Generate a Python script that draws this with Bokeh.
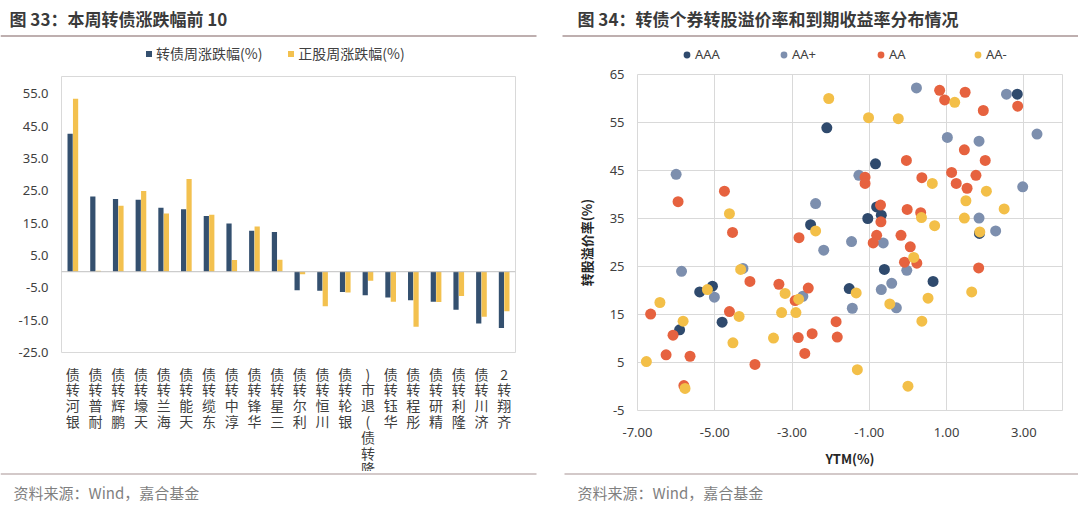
from bokeh.plotting import figure
from bokeh.models import (Range1d, FactorRange, FixedTicker, PrintfTickFormatter,
                          Legend, LegendItem, Span, ColumnDataSource)
from bokeh.transform import dodge
from bokeh.layouts import column, row
from bokeh.core.properties import value
from bokeh.embed import file_html
from bokeh.resources import INLINE

# ---------------- data ----------------
bond_names = ["银河转债", "耐普转债", "鹏辉转债", "天壕转债", "海兰转债", "天能转债", "东缆转债",
              "淳中转债", "华锋转债", "三星转债", "利尔转债", "川恒转债", "银轮转债", "康隆转债(退市)",
              "华钰转债", "彤程转债", "精研转债", "隆利转债", "济川转债", "齐翔转2"]
bond_chg = [42.7, 23.3, 22.5, 22.3, 19.8, 19.3, 17.2, 14.9, 12.7, 12.3,
            -5.7, -5.9, -6.3, -7.3, -8.0, -8.8, -9.3, -11.8, -16.0, -17.4]
stock_chg = [53.5, 0.3, 20.4, 25.0, 18.0, 28.7, 17.6, 3.6, 14.0, 3.7,
             -0.8, -10.7, -6.4, -2.8, -9.3, -17.0, -9.4, -7.5, -13.9, -12.2]
bar_series = ["转债周涨跌幅(%)", "正股周涨跌幅(%)"]
bar_ticks = [-25, -15, -5, 5, 15, 25, 35, 45, 55]

ratings = ["AAA", "AA+", "AA", "AA-"]
aaa_x = [-2.1, 2.83, -0.84, -0.81, -0.69, -1.04, 1.85, -2.52, -0.61, 0.65, -1.52, -5.39, -5.06, -4.81, -5.91]
aaa_y = [53.9, 60.9, 46.4, 37.4, 35.7, 35.0, 31.9, 33.7, 24.4, 21.9, 20.4, 19.7, 20.9, 13.4, 11.8]
aap_x = [0.22, 2.55, 3.34, 1.02, 1.84, -1.27, 2.97, -2.39, 1.84, 2.27, -1.46, -0.64, -2.18, -0.03,
         -0.42, -0.69, -0.30, -1.44, -6.0, -5.86, -5.01, -4.27, -2.72]
aap_y = [62.2, 60.9, 52.6, 51.9, 51.1, 44.0, 41.6, 38.1, 35.1, 32.4, 30.2, 29.9, 28.4, 24.2,
         21.5, 20.2, 16.4, 16.3, 44.2, 24.0, 18.6, 24.6, 18.8]
aa_x = [0.82, 0.95, 1.48, 2.84, 1.95, 1.46, 2.0, -0.04, -1.11, -1.11, 0.36, 1.13, 1.25, 1.53, 1.76,
        -0.71, -0.70, -0.02, 0.33, -0.81, -0.90, -0.18, 0.06, -0.09, 0.23, 1.83, -1.86, -1.83,
        -5.95, -4.75, -4.54, -2.82, -4.09, -3.34, -2.58, -2.92, -6.66, -4.62, -6.08, -6.26, -5.64,
        -2.84, -2.48, -2.67, -3.96, -5.8]
aa_y = [61.7, 59.7, 61.3, 58.4, 57.5, 49.3, 47.1, 47.1, 43.6, 42.3, 43.5, 44.6, 42.3, 41.3, 44.0,
        37.8, 34.3, 36.9, 36.2, 31.5, 29.9, 31.5, 29.1, 25.9, 25.7, 24.7, 13.5, 10.3,
        38.5, 40.7, 32.1, 31.0, 21.9, 21.3, 20.5, 17.9, 15.1, 15.6, 10.7, 6.6, 6.3,
        10.2, 11.0, 6.9, 4.6, 0.2]
aam_x = [-2.05, 1.21, -1.02, -0.25, 0.63, 2.03, 1.50, 2.49, 0.35, 0.69, 1.46, 1.86, -4.62, -2.39,
         0.15, -1.34, 1.65, 0.52, -0.47, 0.36, -1.31, 0.0, -5.19, -4.33, -3.18, -2.83, -6.42,
         -4.37, -3.27, -2.90, -5.82, -4.53, -3.48, -6.77, -5.77]
aam_y = [60.0, 59.2, 56.0, 55.8, 42.3, 40.7, 38.7, 37.0, 35.2, 33.5, 35.1, 32.2, 36.0, 32.4,
         26.9, 19.5, 19.7, 18.4, 17.2, 13.6, 3.5, 0.07, 20.2, 24.4, 19.4, 18.2, 17.5,
         14.6, 15.4, 15.4, 13.6, 9.1, 10.1, 5.2, -0.4]
sc_xticks = [-7, -5, -3, -1, 1, 3]
sc_yticks = [-5, 5, 15, 25, 35, 45, 55, 65]

titles = ["图 33：本周转债涨跌幅前 10", "图 34：转债个券转股溢价率和到期收益率分布情况"]
source_text = "资料来源：Wind，嘉合基金"

# ---------------- styles ----------------
CJK = "Noto Sans CJK SC"
NUM = "Noto Sans"
NAVY = "#34506f"
YEL = "#f3c14f"
C_AAA = "#2f4a6d"
C_AAP = "#7d8fae"
C_AA = "#e6623f"
C_AAM = "#f3bf48"
TXT = "#404040"
RULE = "#a89494"
NAN = float("nan")

W = 1078
X0 = 1  # page origin in picture pixels

def blank(width, height, y_top, y_bot):
    f = figure(width=width, height=height, x_range=Range1d(X0, X0 + width),
               y_range=Range1d(y_bot, y_top), x_axis_location=None, y_axis_location=None,
               toolbar_location=None, output_backend="svg", min_border=0,
               outline_line_color=None)
    f.grid.visible = False
    return f

# ---------------- header (titles + legends) ----------------
head = blank(W, 65, 1, 66)
head.text(x=[10, 578], y=[19, 19], text=titles, text_font=value(CJK), text_font_style="bold",
          text_font_size="17px", text_color="#3a3a3a", text_baseline="middle", text_align="left")
head.segment(x0=[X0, 563], x1=[537, X0 + W], y0=[36.5, 36.5], y1=[36.5, 36.5],
             line_color=RULE, line_width=1.5)

# legend swatches: invisible (NaN) keys that carry the series styles
lg_bars = [head.scatter([NAN], [NAN], marker="square", size=8, fill_color=c, line_color=None)
           for c in (NAVY, YEL)]
head.add_layout(Legend(items=[LegendItem(label=bar_series[i], renderers=[lg_bars[i]]) for i in range(2)],
                       orientation="horizontal", location=(141, 2), glyph_width=15, glyph_height=15,
                       label_text_font=CJK, label_text_font_size="14px", label_text_color=TXT,
                       label_standoff=0, spacing=21, border_line_color=None,
                       background_fill_alpha=0, padding=0, margin=0))
lg_dots = [head.scatter([NAN], [NAN], marker="circle", size=8, fill_color=c, line_color=None)
           for c in (C_AAA, C_AAP, C_AA, C_AAM)]
head.add_layout(Legend(items=[LegendItem(label=ratings[i], renderers=[lg_dots[i]]) for i in range(4)],
                       orientation="horizontal", location=(678, 2), glyph_width=17, glyph_height=17,
                       label_text_font=NUM, label_text_font_size="13px", label_text_color=TXT,
                       label_standoff=0, label_width=72, spacing=8, border_line_color=None,
                       background_fill_alpha=0, padding=0, margin=0))

# ---------------- left: bar chart ----------------
src = ColumnDataSource(dict(name=bond_names, bond=bond_chg, stock=stock_chg,
                            vlabel=["\n".join(reversed(list(n))) for n in bond_names]))
xr = FactorRange(*bond_names, range_padding=0)
left = figure(width=563, height=297, x_range=xr, y_range=Range1d(-25, 60.4),
              toolbar_location=None, output_backend="svg",
              min_border_left=61, min_border_right=48, min_border_top=11, min_border_bottom=10,
              outline_line_color="#d9d9d9")
left.grid.visible = False
left.xaxis.visible = False
left.vbar(x=dodge("name", -0.12, range=xr), top="bond", bottom=0, width=0.23,
          source=src, fill_color=NAVY, line_color=None)
left.vbar(x=dodge("name", 0.12, range=xr), top="stock", bottom=0, width=0.23,
          source=src, fill_color=YEL, line_color=None)
left.add_layout(Span(location=0, dimension="width", line_color="#bfbfbf", line_width=1))

left.yaxis.ticker = FixedTicker(ticks=bar_ticks)
left.yaxis.formatter = PrintfTickFormatter(format="%.1f")
left.yaxis.axis_line_color = None
left.yaxis.major_tick_line_color = None
left.yaxis.minor_tick_line_color = None
left.yaxis.major_label_text_font = NUM
left.yaxis.major_label_text_font_size = "13px"
left.yaxis.major_label_text_color = TXT
left.yaxis.major_label_standoff = 7

# category labels (vertical, upright CJK, reading bottom-to-top as in the source)
lab = figure(width=563, height=109, x_range=xr, y_range=Range1d(109, 0),
             x_axis_location=None, y_axis_location=None, toolbar_location=None,
             output_backend="svg", min_border_left=61, min_border_right=48,
             min_border_top=0, min_border_bottom=0, outline_line_color=None)
lab.grid.visible = False
lab.text(x="name", y=1, text="vlabel", source=src, text_font=value(CJK), text_font_size="14px",
         text_color=TXT, text_align="center", text_baseline="top", text_line_height=0.79)

# ---------------- right: scatter ----------------
right = figure(width=515, height=406, x_range=Range1d(-7, 4), y_range=Range1d(-5, 65),
               toolbar_location=None, output_backend="svg",
               min_border_left=74, min_border_right=16, min_border_top=9, min_border_bottom=61,
               outline_line_color="#d9d9d9")
for (xs, ys, col) in [(aaa_x, aaa_y, C_AAA), (aap_x, aap_y, C_AAP),
                      (aa_x, aa_y, C_AA), (aam_x, aam_y, C_AAM)]:
    right.scatter(xs, ys, size=11, marker="circle", fill_color=col, line_color=None)

right.xaxis.ticker = FixedTicker(ticks=sc_xticks)
right.yaxis.ticker = FixedTicker(ticks=sc_yticks)
right.xaxis.formatter = PrintfTickFormatter(format="%.2f")
right.yaxis.formatter = PrintfTickFormatter(format="%d")
right.xgrid.ticker = FixedTicker(ticks=sc_xticks)
right.ygrid.ticker = FixedTicker(ticks=sc_yticks)
right.grid.grid_line_color = "#d9d9d9"
right.grid.grid_line_width = 1
for ax in (right.xaxis, right.yaxis):
    ax.axis_line_color = None
    ax.major_tick_line_color = None
    ax.minor_tick_line_color = None
    ax.major_label_text_font = NUM
    ax.major_label_text_font_size = "13px"
    ax.major_label_text_color = TXT
    ax.axis_label_text_font = CJK
    ax.axis_label_text_font_style = "bold"
    ax.axis_label_text_font_size = "13px"
    ax.axis_label_text_color = "#262626"
right.xaxis.major_label_standoff = 11
right.yaxis.major_label_standoff = 7
right.xaxis.axis_label = "YTM(%)"
right.yaxis.axis_label = "转股溢价率(%)"
right.xaxis.axis_label_standoff = 9
right.yaxis.axis_label_standoff = 11

# ---------------- footer ----------------
foot = blank(W, 35, 472, 507)
foot.segment(x0=[X0, 565], x1=[537, X0 + W], y0=[474.5, 474.5], y1=[474.5, 474.5],
             line_color=RULE, line_width=1.2)
foot.text(x=[14, 578], y=[493, 493], text=[source_text, source_text], text_font=value(CJK),
          text_font_size="15px", text_color="#7f7f7f", text_baseline="middle", text_align="left")

layout = column(head, row(column(left, lab), right), foot)
open("out.html", "w").write(file_html(layout, INLINE))
